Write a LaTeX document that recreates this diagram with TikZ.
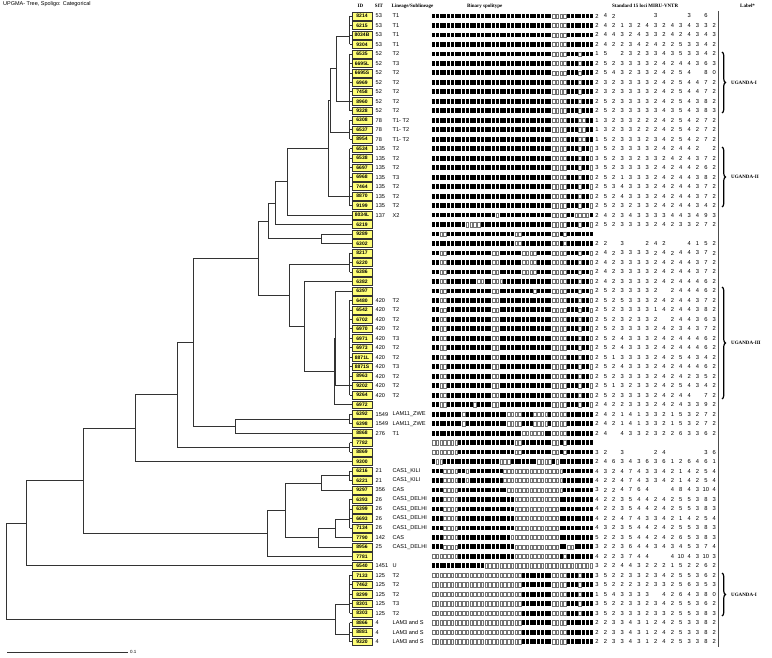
\documentclass[tikz,border=0pt]{standalone}
\usepackage{fontspec}
\setmainfont{Liberation Serif}
\setsansfont{Liberation Sans}
\usetikzlibrary{decorations.pathreplacing,calc}
\definecolor{idfill}{RGB}{255,255,120}
\newcount\spoidx
\def\spoy{0}
\newcommand\spodraw[2]{\global\spoidx=0 \def\spoy{#1}\expandafter\spoloop#2\relax}
\def\spoloop#1{%
  \ifx#1\relax\else
    \pgfmathsetmacro\spox{432+3.75*\the\spoidx}%
    \ifnum#1=1 \fill[black] (\spox,\spoy-2.4) rectangle ++(3.15,4.8);%
    \else \draw[black!55,line width=0.4,fill=white] (\spox+0.25,\spoy-2.15) rectangle ++(2.65,4.3);%
    \fi
    \global\advance\spoidx by 1
    \expandafter\spoloop
  \fi}
\def\spoA{11111111 11111111 11111111 11111111 0000 1111111}
\def\spoB{11111111 11111111 11111111 11111111 0000 111 0 111}
\def\spoC{11111111 11111111 11111111 11111111 0000 111 00 11}
\def\spoD{11111111 11111111 11111111 11111111 0000 111 0 11 0}
\def\spoE{11 00 111111111111 00 11111111111111 0000 111 0 11 0}
\def\spoF{111 0000 111111111111111 000000000000 111111111}
\def\spoG{00000000 00000000 00000000 11111111 0000 111 0 111}
\def\spoH{00000000 00000000 00000000 11111111 0000 1111111}
\def\spoI{111 0000 11 0 111111111 0000000000000000 11111111}
\def\spoJ{11111111 0 11111111111 0000 111 0000 1 0000 1111111}
\newcommand\rw[6]{%
  \pgfmathsetmacro\ry{16+(#1-1)*9.48}%
  \coordinate (L#1) at (352,\ry);
  \node[idbox] (id#1) at (362,\ry) {#2};
  \node[txt] (sit#1) at (375.5,\ry) {#3};
  \node[txt] (lin#1) at (392.5,\ry) {#4};
  \spodraw{\ry}{#5}%
  \foreach \d [count=\k from 0] in {#6} {\node[dig] (m#1-\k) at (597+8.38*\k,\ry) {\d};}%
}
\newcommand\spostar[4]{%
  \coordinate (#1) at (349.5,#4);
  \draw[tree] (349.5,{16+(#2-1)*9.48}) -- (349.5,{16+(#3-1)*9.48});
  \foreach \j in {#2,...,#3} {\draw[tree] (349.5,{16+(\j-1)*9.48}) -- (L\j);}
}
\newcommand\spojoin[4]{%
  \coordinate (jx) at (#2,0);
  \coordinate (jm) at ($(#3)!0.5!(#4)$);
  \coordinate (#1) at (jm -| jx);
  \draw[tree] (#3) -- (#3 -| jx) -- (#4 -| jx) -- (#4);
}
\begin{document}
\begin{tikzpicture}[x=1pt,y=-1pt,
  idbox/.style={draw=black!80,fill=idfill,line width=0.5,minimum width=20,minimum height=7.8,inner sep=0,font=\sffamily\bfseries\fontsize{5}{5}\selectfont},
  txt/.style={anchor=west,inner sep=0,font=\sffamily\fontsize{5.6}{6}\selectfont},
  dig/.style={inner sep=0,font=\sffamily\fontsize{5.8}{6}\selectfont},
  hdr/.style={inner sep=0,font=\rmfamily\bfseries\fontsize{5}{6}\selectfont},
  lab/.style={anchor=west,inner sep=0,font=\rmfamily\bfseries\fontsize{5}{6}\selectfont},
  tree/.style={draw=black!80,line width=0.75},
  brace/.style={draw=black,line width=1.2,decorate,decoration={brace,amplitude=3.5pt}}]
\useasboundingbox (0,0) rectangle (772,658);
\fill[white] (0,0) rectangle (772,658);
\node[anchor=north west,inner sep=0,font=\sffamily\fontsize{5.5}{6}\selectfont] (title) at (3,1.5) {UPGMA- Tree, Spoligo: Categorical};
\node[hdr] (hID) at (360.5,6) {ID};
\node[hdr] (hSIT) at (379,6) {SIT};
\node[hdr,anchor=west] (hLin) at (391.5,6) {Lineage/Sublineage};
\node[hdr,anchor=west] (hBin) at (467,6) {Binary spolitype};
\node[hdr,anchor=west] (hMIRU) at (612,6) {Standard 15 loci MIRU-VNTR};
\node[hdr,anchor=west] (hLab) at (740,6) {Label*};
\draw[black!70,line width=0.6] (718.5,11) -- (718.5,647);
\rw{1}{8214}{53}{T1}{\spoA}{2,4,2,,,,,3,,,,3,,6}
\rw{2}{6215}{53}{T1}{\spoA}{2,4,2,1,3,2,4,3,2,4,3,4,3,3,2}
\rw{3}{8034B}{53}{T1}{\spoA}{2,4,4,3,2,4,3,3,2,4,2,4,3,4,3}
\rw{4}{9304}{53}{T1}{\spoA}{2,4,2,2,3,4,2,4,2,2,5,3,3,4,2}
\rw{5}{6535}{52}{T2}{\spoB}{1,5,,2,3,2,3,3,4,3,5,3,3,4,2}
\rw{6}{6695L}{52}{T3}{\spoB}{2,5,2,3,3,3,3,2,4,2,4,4,3,6,3}
\rw{7}{6695S}{52}{T2}{\spoB}{2,5,4,3,2,3,3,2,4,2,5,4,,8,0}
\rw{8}{6969}{52}{T2}{\spoB}{2,3,2,3,3,3,3,2,4,2,5,4,4,7,2}
\rw{9}{7458}{52}{T2}{\spoB}{2,3,2,3,3,3,3,2,4,2,5,4,4,7,2}
\rw{10}{8960}{52}{T2}{\spoB}{2,5,2,3,3,3,3,2,4,2,5,4,3,8,2}
\rw{11}{9328}{52}{T2}{\spoB}{2,5,2,3,3,3,3,3,4,3,5,4,3,8,3}
\rw{12}{6308}{78}{T1- T2}{\spoC}{1,3,2,3,3,2,2,2,4,2,5,4,2,7,2}
\rw{13}{6537}{78}{T1- T2}{\spoC}{1,3,2,3,3,2,2,2,4,2,5,4,2,7,2}
\rw{14}{8954}{78}{T1- T2}{\spoC}{1,5,2,3,3,3,2,3,4,2,5,4,2,7,2}
\rw{15}{6534}{135}{T2}{\spoD}{3,5,2,3,3,3,3,2,4,2,4,4,2,,2}
\rw{16}{6538}{135}{T2}{\spoD}{3,5,2,3,3,2,3,3,2,4,2,4,3,7,2}
\rw{17}{6697}{135}{T2}{\spoD}{3,5,2,3,3,3,3,2,4,2,4,4,2,6,2}
\rw{18}{6968}{135}{T3}{\spoD}{2,5,2,1,3,3,3,2,4,2,4,4,3,8,2}
\rw{19}{7464}{135}{T2}{\spoD}{2,5,3,4,3,3,3,2,4,2,4,4,3,7,2}
\rw{20}{8870}{135}{T2}{\spoD}{2,5,2,4,3,3,3,2,4,2,4,4,3,7,2}
\rw{21}{9199}{135}{T2}{\spoD}{2,5,2,3,2,3,3,2,4,2,4,4,3,4,2}
\rw{22}{8034L}{137}{X2}{11111111111111111 0 11111111111111 0000 11 0000 1}{2,4,2,3,4,3,3,3,3,4,4,3,4,9,3}
\rw{23}{6219}{}{}{111111111 0000 1111111111111111111 0000 111 0 11 0}{2,5,2,3,3,3,3,2,4,2,3,3,2,7,2}
\rw{24}{9289}{}{}{11 00 111111111111111111 00 11111111 00 1 0 1111111}{}
\rw{25}{6302}{}{}{1111111111111111111111 00 11111111 00 1 0 1111111}{2,2,,3,,,2,4,2,,,4,1,5,2}
\rw{26}{8217}{}{}{11 00 111111111111 00 111111 0000 1111 0000 111 0 11 0}{2,4,2,3,3,3,3,2,4,2,4,4,3,7,2}
\rw{27}{6220}{}{}{11 00 111111111111 00 111111 0000 1111 0000 111 0 11 0}{2,4,2,3,3,3,3,2,4,2,4,4,3,7,2}
\rw{28}{6386}{}{}{11 00 111111111111 00 111111 0000 1111 0000 111 0 11 0}{2,4,2,3,3,3,3,2,4,2,4,4,3,7,2}
\rw{29}{6382}{}{}{11 00 11111111 00 11 000 1111111111111 0000 111 0 11 0}{2,4,2,3,3,3,3,2,4,2,4,4,4,6,2}
\rw{30}{6397}{}{}{11 00 111111111111 00 111111111 0 1111 0000 111 0 11 0}{2,5,2,3,3,3,3,2,,2,4,4,4,6,2}
\rw{31}{6480}{420}{T2}{\spoE}{2,5,2,5,3,3,3,2,4,2,4,4,3,7,2}
\rw{32}{6542}{420}{T2}{\spoE}{2,5,2,3,3,3,3,1,4,2,4,4,3,8,2}
\rw{33}{6702}{420}{T2}{\spoE}{2,5,2,3,2,3,3,2,,2,4,4,3,6,3}
\rw{34}{6970}{420}{T2}{\spoE}{2,5,2,3,3,3,3,2,4,2,3,4,3,7,2}
\rw{35}{6971}{420}{T3}{\spoE}{2,5,2,4,3,3,3,2,4,2,4,4,4,6,2}
\rw{36}{6973}{420}{T2}{\spoE}{2,5,2,4,3,3,3,2,4,2,4,4,4,6,2}
\rw{37}{8871L}{420}{T2}{\spoE}{2,5,1,3,3,3,3,2,4,2,5,4,3,4,2}
\rw{38}{8871S}{420}{T3}{\spoE}{2,5,2,4,3,3,3,2,4,2,4,4,4,6,2}
\rw{39}{8963}{420}{T2}{\spoE}{2,5,2,3,3,3,3,2,4,2,4,2,3,5,2}
\rw{40}{9202}{420}{T2}{\spoE}{2,5,1,3,2,3,3,2,4,2,5,4,3,4,2}
\rw{41}{9264}{420}{T2}{\spoE}{2,5,2,3,3,3,3,2,4,2,4,4,,7,2}
\rw{42}{6972}{}{}{11 00 1111111 0 1111 00 11111111111111 0000 111 0 11 0}{2,4,2,2,3,3,3,2,4,2,4,3,3,9,2}
\rw{43}{6392}{1549}{LAM11\_ZWE}{\spoJ}{2,4,2,1,4,1,3,3,2,1,5,3,2,7,2}
\rw{44}{6398}{1549}{LAM11\_ZWE}{\spoJ}{2,4,2,1,4,1,3,3,2,1,5,3,2,7,2}
\rw{45}{8868}{276}{T1}{111111111111111111111111 000000 11 0000 1111111}{2,4,,4,3,3,2,3,2,2,6,3,3,6,2}
\rw{46}{7782}{}{}{0000000 111111111111111 00 11111111 00 1 0 1111111}{}
\rw{47}{8869}{}{}{0000000 111111111111111 00 11111111 00 1 0 1111111}{3,2,,3,,,,2,4,,,,,3,6}
\rw{48}{9300}{}{}{1 00 111111111111111 000 1111111 0000 1 0 111111111}{2,4,6,3,4,3,6,3,6,1,2,6,4,6,1}
\rw{49}{6216}{21}{CAS1\_KILI}{\spoI}{4,3,2,4,7,4,3,3,4,2,1,4,2,5,4}
\rw{50}{6221}{21}{CAS1\_KILI}{\spoI}{4,2,2,4,7,4,3,3,4,2,1,4,2,5,4}
\rw{51}{9297}{356}{CAS}{111 0000 1111111111111 000000000000000 11111111}{3,2,2,4,7,6,4,,,4,8,4,3,10,4}
\rw{52}{6393}{26}{CAS1\_DELHI}{\spoF}{4,2,2,3,5,4,4,2,4,2,5,5,3,8,3}
\rw{53}{6399}{26}{CAS1\_DELHI}{\spoF}{4,2,2,3,5,4,4,2,4,2,5,5,3,8,3}
\rw{54}{6693}{26}{CAS1\_DELHI}{\spoF}{4,2,2,4,7,4,3,3,4,2,1,4,2,5,4}
\rw{55}{7134}{26}{CAS1\_DELHI}{\spoF}{4,3,2,3,5,4,4,2,4,2,5,5,3,8,3}
\rw{56}{7790}{142}{CAS}{111 0000 11111111111111 0000000000000 111111111}{5,2,2,3,5,4,4,2,4,2,6,5,3,8,3}
\rw{57}{8956}{25}{CAS1\_DELHI}{111 0000 111111111111111 000000000000 11 00 11111}{3,2,2,3,6,4,4,3,4,3,4,5,3,7,4}
\rw{58}{7781}{}{}{0000000 111111111111111 000000000000 1 0 1111111}{4,2,2,3,7,4,4,,,4,10,4,3,10,3}
\rw{59}{6540}{1451}{U}{11111111111111 00000000000000000000000000000}{3,2,2,4,4,3,2,2,2,1,5,2,2,6,2}
\rw{60}{7133}{125}{T2}{\spoG}{3,5,2,2,3,3,2,3,4,2,5,5,3,6,2}
\rw{61}{7462}{125}{T2}{\spoG}{3,5,2,2,2,3,2,3,3,2,5,6,3,5,3}
\rw{62}{8299}{125}{T2}{\spoG}{1,5,4,3,3,3,3,,4,2,6,4,3,8,0}
\rw{63}{8301}{125}{T3}{\spoG}{3,5,2,2,3,3,2,3,4,2,5,5,3,6,2}
\rw{64}{8303}{125}{T2}{\spoG}{3,5,2,3,3,3,2,3,3,2,5,5,3,8,3}
\rw{65}{8866}{4}{LAM3 and S}{\spoH}{2,2,3,3,4,3,1,2,4,2,5,3,3,8,2}
\rw{66}{8881}{4}{LAM3 and S}{\spoH}{2,2,3,3,4,3,1,2,4,2,5,3,3,8,2}
\rw{67}{9320}{4}{LAM3 and S}{\spoH}{2,2,3,3,4,3,1,2,4,2,5,3,3,8,2}
% tree
\spostar{S1}{1}{4}{36.15}
\spostar{S2}{5}{11}{101.47}
\spostar{S3}{12}{14}{132.13}
\spostar{S4}{15}{21}{196.27}
\spostar{S5}{26}{28}{264.85}
\spostar{S6}{31}{41}{385.73}
\spostar{S7}{43}{44}{418.9}
\spostar{S8}{46}{47}{447.34}
\spostar{S9}{49}{50}{475.78}
\spostar{S10}{52}{55}{519.63}
\spostar{S11}{60}{64}{604.35}
\spostar{S12}{65}{67}{634.57}
\spojoin{N1}{336}{S1}{S2}
\spojoin{N2}{330}{N1}{S3}
\spojoin{N3}{328.3}{N2}{S4}
\spojoin{N4}{287.3}{N3}{L22}
\spojoin{N5}{275.7}{N4}{L23}
\spojoin{N7}{321}{L24}{L25}
\spojoin{N6}{268.7}{N5}{N7}
\spojoin{NU}{335}{L30}{S6}
\spojoin{NS}{334.3}{NU}{L42}
\spojoin{N10}{304.3}{L29}{NS}
\spojoin{N9}{289.3}{S5}{N10}
\spojoin{N8}{258.7}{N6}{N9}
\spojoin{N13}{235.7}{S7}{L45}
\spojoin{N12}{193.3}{N8}{N13}
\spojoin{N14}{177.3}{N12}{S8}
\spojoin{N15}{135.7}{N14}{L48}
\spojoin{N16}{321.3}{S9}{L51}
\spojoin{N17}{335}{S10}{L56}
\spojoin{N18}{318.3}{N17}{L57}
\spojoin{N19}{285.7}{N16}{N18}
\spojoin{N20}{267.3}{N19}{L58}
\spojoin{N21}{83.3}{N15}{N20}
\spojoin{N22}{26}{N21}{L59}
\spojoin{N23}{335}{S11}{S12}
\spojoin{NR}{6}{N22}{N23}
% scale bar
\coordinate (sb1) at (7.3,652.3);
\coordinate (sb2) at (128.3,652.3);
\draw[tree] (sb1) -- (sb2);
\node[anchor=west,inner sep=0,font=\sffamily\fontsize{4.5}{5}\selectfont] (sbl) at (130,652.3) {0.1};
% braces and labels
\draw[brace] (722,52) -- (722,113);
\node[lab] (lab1) at (731,82.5) {UGANDA-I};
\draw[brace] (722,147) -- (722,207);
\node[lab] (lab2) at (731,177) {UGANDA-II};
\draw[brace] (722,287) -- (722,399);
\node[lab] (lab3) at (731,343) {UGANDA-III};
\draw[brace] (722,573) -- (722,616);
\node[lab] (lab4) at (731,594.5) {UGANDA-I};
\end{tikzpicture}
\end{document}
